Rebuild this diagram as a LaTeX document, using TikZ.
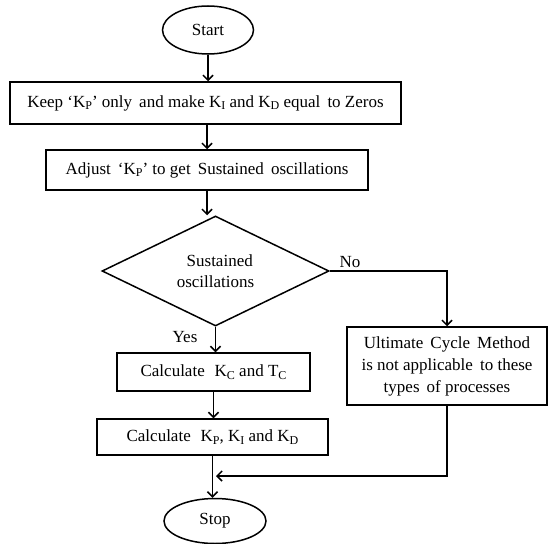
\documentclass[tikz,border=0pt]{standalone}
\usepackage{fontspec}
\setmainfont{Liberation Serif}
\usetikzlibrary{shapes.geometric,arrows.meta}
\newcommand\sbs[1]{\raisebox{-0.35ex}{\fontsize{12}{12}\selectfont #1}}
\begin{document}
\begin{tikzpicture}[x=1pt,y=-1pt,
  every node/.style={font=\fontsize{17}{21}\selectfont},
  term/.style={draw,line width=1.5pt,ellipse,inner sep=0pt},
  proc/.style={draw,line width=1.5pt,rectangle,inner sep=0pt,align=center},
  dec/.style={draw,line width=1.5pt,diamond,aspect=2,inner sep=0pt,align=center},
  conn/.style={line width=1.5pt,-{Straight Barb[length=5pt,width=10pt,line width=1.5pt]}},
  lbl/.style={inner sep=0pt}]
\useasboundingbox (0,0) rectangle (548,543);
\node[term,minimum width=91pt,minimum height=48pt] (start) at (208,30) {Start};
\node[proc,minimum width=391pt,minimum height=42pt] (b1) at (205.5,103) {Keep ‘K\sbs{P}’ only\, and make K\sbs{I} and K\sbs{D} equal\, to Zeros};
\node[proc,minimum width=322pt,minimum height=40pt] (b2) at (207,170) {Adjust\, ‘K\sbs{P}’ to get\, Sustained\, oscillations};
\node[dec,minimum width=227pt,minimum height=110pt] (d) at (215.5,271) {\,\,\,Sustained\\oscillations};
\node[proc,minimum width=193pt,minimum height=38pt] (b3) at (213.5,372) {Calculate\,\, K\sbs{C} and T\sbs{C}};
\node[proc,minimum width=231pt,minimum height=36pt] (b4) at (212.5,437) {Calculate\,\, K\sbs{P}, K\sbs{I} and K\sbs{D}};
\node[proc,minimum width=200pt,minimum height=78pt,font=\fontsize{17}{22}\selectfont] (r) at (447,366) {Ultimate\, Cycle\, Method\\is not applicable\, to these\\types\, of processes};
\node[term,minimum width=102pt,minimum height=45pt] (stop) at (215,521) {Stop};
\coordinate (j) at (216,476);
\node[lbl] (no) at (350,262) {No};
\node[lbl] (yes) at (185,337) {Yes};
\draw[conn] (start.south) -- (start.south |- b1.north);
\draw[conn] (b2.north |- b1.south) -- (b2.north);
\draw[conn] (b2.south) -- (b2.south |- d.north);
\draw[conn] (d.south) -- (d.south |- b3.north);
\draw[conn] (b3.south) -- (b3.south |- b4.north);
\draw[conn] (b4.south) -- (b4.south |- stop.north);
\draw[conn] (d.east) -| (r.north);
\draw[conn] (r.south) |- (j);
\end{tikzpicture}
\end{document}
